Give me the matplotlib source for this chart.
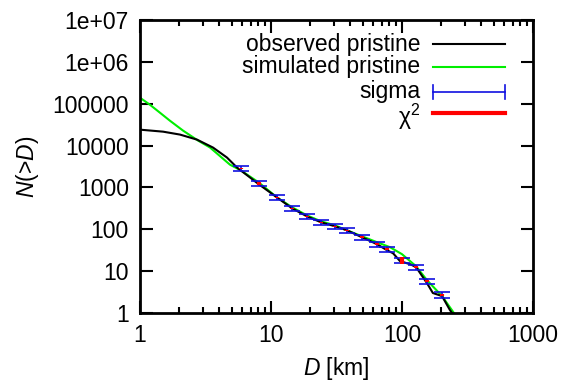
import matplotlib
matplotlib.use("Agg")
import matplotlib.pyplot as plt
from matplotlib.lines import Line2D

plt.rcParams['font.family'] = ['Liberation Sans', 'DejaVu Sans']
plt.rcParams['mathtext.fontset'] = 'custom'
plt.rcParams['mathtext.rm'] = 'Liberation Sans'
plt.rcParams['mathtext.it'] = 'Liberation Sans:italic'

# observed pristine SFD
obs_D = [1.0, 1.50, 2.02, 2.72, 3.61, 4.61, 5.50, 6.91, 8.10, 11.1, 14.5, 18.8, 24.1,
         30.8, 38.0, 49.5, 64.5, 76.8, 85.4, 96.6, 115, 128, 155, 172, 202, 232, 241]
obs_N = [24000, 21500, 18300, 13900, 8960, 5180, 2990, 1730, 1180, 578, 316, 204, 147,
         118, 94.6, 64.5, 44, 31.6, 26.8, 17.3, 14.7, 12.5, 5.18, 3.0, 2.54, 1.18, 1.0]

# simulated pristine SFD
sim_D = [1.0, 1.19, 1.42, 1.69, 2.13, 2.77, 3.42, 4.08, 4.86, 5.90, 8.10, 11.1, 14.5,
         18.8, 24.1, 30.8, 38.0, 49.5, 64.5, 81, 100, 128, 155, 202, 249]
sim_N = [139000, 94700, 61000, 39400, 22800, 13200, 9000, 5600, 3500, 2540, 1300, 578, 335,
         215, 155, 124, 94.6, 68, 49, 37.3, 25.4, 13.1, 6.1, 2.54, 1.0]

# data points with sigma
pts_D = [5.90, 8.10, 11.1, 14.5, 18.8, 24.1, 30.8, 38.0, 49.5, 64.5, 76.8, 100, 128, 155, 202]
pts_N = [2830, 1245, 578, 316, 204, 147, 118, 94.6, 64.5, 44, 33.4, 18.3, 12.5, 5.8, 2.7]
sigma = [400, 180, 80, 45, 29, 21, 17, 13.5, 9.2, 6.3, 4.8, 2.6, 1.8, 0.83, 0.39]
chi2 = [60, 110, 25, 12, 8, 6, 5, 4, 3, 2.5, 2, 3.2, 0.7, 0.35, 0.18]

FS = 16.5

fig = plt.figure(figsize=(5.74, 3.84), dpi=100)
ax = fig.add_axes([0.2439, 0.1849, 0.6847, 0.763])

ax.plot(obs_D, obs_N, color='black', lw=1.5, zorder=3)
ax.plot(sim_D, sim_N, color='#00ee00', lw=1.5, zorder=2)
ax.errorbar(pts_D, pts_N, yerr=sigma, fmt='none', ecolor='#1010e0', elinewidth=1.2,
            capsize=5.5, capthick=1.2, zorder=4)
ax.errorbar(pts_D, pts_N, yerr=chi2, fmt='none', ecolor='red', elinewidth=3,
            capsize=0, zorder=5)

ax.set_xscale('log')
ax.set_yscale('log')
ax.set_xlim(1, 1000)
ax.set_ylim(1, 1e7)

ax.set_xticks([1, 10, 100, 1000])
ax.set_xticklabels(['1', '10', '100', '1000'])
ax.set_yticks([1, 10, 100, 1000, 1e4, 1e5, 1e6, 1e7])
ax.set_yticklabels(['1', '10', '100', '1000', '10000', '100000', '1e+06', '1e+07'])

ax.tick_params(which='both', direction='in', top=True, right=True, width=1.5,
               labelsize=FS, colors='black')
ax.tick_params(which='major', length=9, pad=8)
ax.tick_params(which='minor', length=4.5)
for s in ax.spines.values():
    s.set_linewidth(2)

ax.set_xlabel('$\\mathit{D}$ [km]', fontsize=FS, labelpad=6)
ax.set_ylabel('$\\mathit{N}$(>$\\mathit{D}$)', fontsize=FS, labelpad=8)

# legend (gnuplot style)
labels = ['observed pristine', 'simulated pristine', 'sigma', 'χ$^2$']
rows = [0.918, 0.840, 0.754, 0.683]
text_rows = [0.918, 0.840, 0.757, 0.668]
tx, x0, x1 = 0.7125, 0.7455, 0.9288
for lab, yy in zip(labels, text_rows):
    ax.text(tx, yy, lab, transform=ax.transAxes, ha='right', va='center', fontsize=FS)
ax.add_line(Line2D([x0, x1], [rows[0]] * 2, color='black', lw=1.5, transform=ax.transAxes))
ax.add_line(Line2D([x0, x1], [rows[1]] * 2, color='#00ee00', lw=1.5, transform=ax.transAxes))
ax.add_line(Line2D([x0, x1], [rows[2]] * 2, color='#1010e0', lw=1.2, transform=ax.transAxes))
for xx in (x0, x1):
    ax.add_line(Line2D([xx, xx], [rows[2] - 0.025, rows[2] + 0.025], color='#1010e0', lw=1.2,
                       transform=ax.transAxes))
ax.add_line(Line2D([x0, x1], [rows[3]] * 2, color='red', lw=3, transform=ax.transAxes))

fig.savefig('out.png', dpi=100)
